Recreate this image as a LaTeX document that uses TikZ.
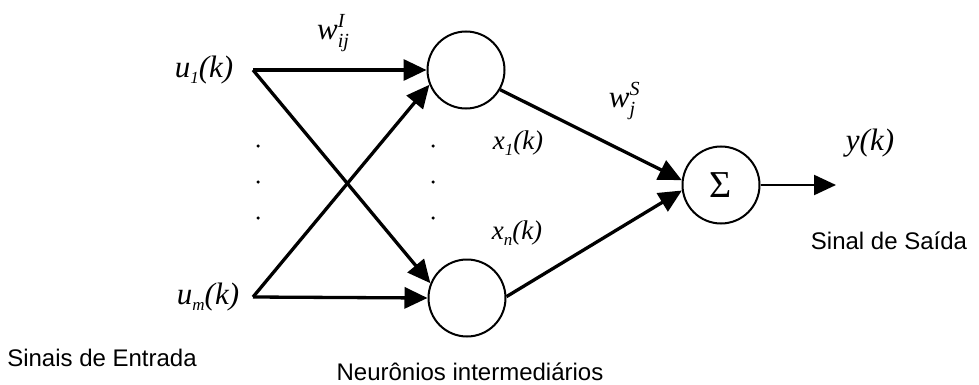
\documentclass[tikz,border=0pt]{standalone}
\usepackage{fontspec}
\setmainfont{Liberation Serif}
\newfontfamily\arialfont{Liberation Sans}
\usetikzlibrary{arrows.meta}
\newcommand\lo[1]{\raisebox{-0.45ex}{\fontsize{17}{17}\selectfont #1}}
\newcommand\hilo[2]{\rlap{\raisebox{0.9ex}{\fontsize{20}{20}\selectfont #1}}\raisebox{-0.55ex}{\fontsize{20}{20}\selectfont #2}}
\tikzset{
  mlbl/.style={font=\fontsize{31}{33}\selectfont\itshape, inner sep=0pt},
  xlbl/.style={font=\fontsize{27}{29}\selectfont\itshape, inner sep=0pt},
  sanslbl/.style={font=\arialfont\fontsize{24}{26}\selectfont, inner sep=0pt},
  neuron/.style={circle, draw, line width=2pt, minimum size=77pt, inner sep=0pt},
  conn/.style={line width=3.3pt, -{Triangle[length=23pt,width=21pt]}},
  dotmark/.style={circle, fill, inner sep=0pt, minimum size=3.5pt}
}
\begin{document}
\begin{tikzpicture}[x=1pt,y=-1pt]
\useasboundingbox (0,0) rectangle (979,385);
% input points
\coordinate (p1) at (253,70);
\coordinate (pm) at (253,297);
% neurons
\node[neuron] (n1) at (466,70) {};
\node[neuron] (nn) at (467,298) {};
\node[neuron, font=\fontsize{38}{40}\selectfont] (sum) at (721,185) {Σ};
\coordinate (out) at (836,185);
% connectors
\draw[conn] (p1) -- (n1.west);
\draw[conn] (p1) -- (nn.158);
\draw[conn] (pm) -- (nn.west);
\draw[conn] (pm) -- (n1.202);
\draw[conn] (n1.-30) -- (sum.173);
\draw[conn] (nn.2) -- (sum.188);
\draw[line width=2.2pt, -{Triangle[length=22pt,width=20pt]}] (sum.east) -- (out);
% dots
\foreach \y [count=\i] in {146,182,218}{
  \node[dotmark] (dl\i) at (258,\y) {};
  \node[dotmark] (dm\i) at (433,\y) {};
}
% labels
\node[mlbl] (lu1) at (204,70) {u\lo{1}(k)};
\node[mlbl] (lum) at (208,297) {u\lo{m}(k)};
\node[mlbl] (lw1) at (333,33) {w\hilo{I}{ij}};
\node[mlbl] (lw2) at (622,101) {w\hilo{S}{j}};
\node[xlbl] (lx1) at (518,143) {x\lo{1}(k)};
\node[xlbl] (lxn) at (517,233) {x\lo{n}(k)};
\node[mlbl] (ly) at (870,143) {y(k)};
\node[sanslbl] (ls) at (889,241) {Sinal de Saída};
\node[sanslbl] (le) at (102,358) {Sinais de Entrada};
\node[sanslbl] (li) at (470,372) {Neurônios intermediários};
\end{tikzpicture}
\end{document}
